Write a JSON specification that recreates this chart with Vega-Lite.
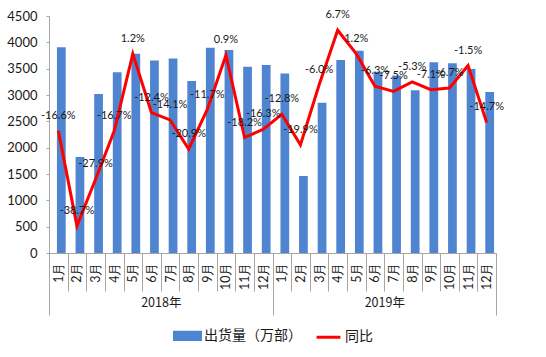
{
  "$schema": "https://vega.github.io/schema/vega-lite/v6.json",
  "autosize": {"type": "none"},
  "width": 447,
  "height": 237,
  "padding": {"left": 49, "top": 16, "right": 50, "bottom": 104},
  "background": "white",
  "config": {
    "view": {"stroke": null},
    "axis": {"labelFont": "Lato", "labelColor": "#1a1a1a", "labelFontSize": 12, "domainColor": "#a6a6a6", "tickColor": "#a6a6a6", "grid": false, "title": null},
    "legend": {"layout": {"bottom": {"anchor": "middle"}}}
  },
  "datasets": {
    "months": [
      {"k": "2018-01", "ship": 3905, "yoy": -16.6, "lab": "-16.6%", "s": "出货量（万部）", "t": "同比"},
      {"k": "2018-02", "ship": 1825, "yoy": -38.7, "lab": "-38.7%", "s": "出货量（万部）", "t": "同比"},
      {"k": "2018-03", "ship": 3017, "yoy": -27.9, "lab": "-27.9%", "s": "出货量（万部）", "t": "同比"},
      {"k": "2018-04", "ship": 3430, "yoy": -16.7, "lab": "-16.7%", "s": "出货量（万部）", "t": "同比"},
      {"k": "2018-05", "ship": 3785, "yoy": 1.2, "lab": "1.2%", "s": "出货量（万部）", "t": "同比"},
      {"k": "2018-06", "ship": 3657, "yoy": -12.4, "lab": "-12.4%", "s": "出货量（万部）", "t": "同比"},
      {"k": "2018-07", "ship": 3695, "yoy": -14.1, "lab": "-14.1%", "s": "出货量（万部）", "t": "同比"},
      {"k": "2018-08", "ship": 3264, "yoy": -20.9, "lab": "-20.9%", "s": "出货量（万部）", "t": "同比"},
      {"k": "2018-09", "ship": 3897, "yoy": -11.7, "lab": "-11.7%", "s": "出货量（万部）", "t": "同比"},
      {"k": "2018-10", "ship": 3853, "yoy": 0.9, "lab": "0.9%", "s": "出货量（万部）", "t": "同比"},
      {"k": "2018-11", "ship": 3536, "yoy": -18.2, "lab": "-18.2%", "s": "出货量（万部）", "t": "同比"},
      {"k": "2018-12", "ship": 3568, "yoy": -16.3, "lab": "-16.3%", "s": "出货量（万部）", "t": "同比"},
      {"k": "2019-01", "ship": 3410, "yoy": -12.8, "lab": "-12.8%", "s": "出货量（万部）", "t": "同比"},
      {"k": "2019-02", "ship": 1460, "yoy": -19.9, "lab": "-19.9%", "s": "出货量（万部）", "t": "同比"},
      {"k": "2019-03", "ship": 2852, "yoy": -6.0, "lab": "-6.0%", "s": "出货量（万部）", "t": "同比"},
      {"k": "2019-04", "ship": 3663, "yoy": 6.7, "lab": "6.7%", "s": "出货量（万部）", "t": "同比"},
      {"k": "2019-05", "ship": 3838, "yoy": 1.2, "lab": "1.2%", "s": "出货量（万部）", "t": "同比"},
      {"k": "2019-06", "ship": 3440, "yoy": -6.3, "lab": "-6.3%", "s": "出货量（万部）", "t": "同比"},
      {"k": "2019-07", "ship": 3370, "yoy": -7.5, "lab": "-7.5%", "s": "出货量（万部）", "t": "同比"},
      {"k": "2019-08", "ship": 3090, "yoy": -5.3, "lab": "-5.3%", "s": "出货量（万部）", "t": "同比"},
      {"k": "2019-09", "ship": 3620, "yoy": -7.1, "lab": "-7.1%", "s": "出货量（万部）", "t": "同比"},
      {"k": "2019-10", "ship": 3605, "yoy": -6.7, "lab": "-6.7%", "s": "出货量（万部）", "t": "同比"},
      {"k": "2019-11", "ship": 3492, "yoy": -1.5, "lab": "-1.5%", "s": "出货量（万部）", "t": "同比"},
      {"k": "2019-12", "ship": 3055, "yoy": -14.7, "lab": "-14.7%", "s": "出货量（万部）", "t": "同比"}
    ],
    "years": [{"year": "2018年"}, {"year": "2019年"}]
  },
  "layer": [
    {
      "data": {"name": "months"},
      "mark": {"type": "bar", "width": {"band": 0.47}, "xOffset": 3},
      "encoding": {
        "x": {"field": "k", "type": "nominal", "sort": null,
              "scale": {"paddingInner": 0, "paddingOuter": 0},
              "axis": {"orient": "bottom", "labelExpr": "datum.value ? (toNumber(substring(datum.value, 5, 7)) + '月') : ''", "labelAngle": -90, "tickBand": "extent", "tickSize": 38, "labelPadding": -29, "labelFontSize": 12.5}},
        "y": {"field": "ship", "type": "quantitative",
              "scale": {"domain": [0, 4500], "nice": false},
              "axis": {"orient": "left", "format": "d", "values": [0,500,1000,1500,2000,2500,3000,3500,4000,4500], "tickSize": 3, "labelPadding": 9, "labelFontSize": 13}},
        "color": {"field": "s", "type": "nominal",
                  "scale": {"domain": ["出货量（万部）", "同比"], "range": ["#4f85d0", "#ff0000"]},
                  "legend": {"orient": "bottom", "direction": "horizontal", "title": null, "offset": 5, "labelFontSize": 14, "labelFont": "Noto Sans CJK SC", "labelColor": "#1a1a1a", "symbolSize": 676, "columnPadding": 8, "labelOffset": 2,
                    "encode": {"symbols": {"update": {
                      "shape": {"signal": "datum.label == '同比' ? 'M-0.92,0H0.92' : 'M-1,-0.28H1V0.28H-1Z'"},
                      "fill": {"signal": "datum.label == '同比' ? 'transparent' : '#4f85d0'"},
                      "stroke": {"signal": "datum.label == '同比' ? '#ff0000' : 'transparent'"},
                      "strokeWidth": {"value": 3}
                    }}}}}
      }
    },
    {
      "data": {"name": "months"},
      "encoding": {
        "x": {"field": "k", "type": "nominal", "sort": null, "scale": {"paddingInner": 0, "paddingOuter": 0}, "axis": null}
      },
      "layer": [
        {
          "mark": {"type": "line", "strokeWidth": 3},
          "encoding": {
            "y": {"field": "yoy", "type": "quantitative", "scale": {"domain": [-45, 10], "nice": false},
                  "axis": {"orient": "right", "values": [-45,-40,-35,-30,-25,-20,-15,-10,-5,0,5,10], "labelExpr": "datum.value + '%'", "tickSize": 3, "labelPadding": 7, "labelFontSize": 13}},
            "color": {"field": "t", "type": "nominal"}
          }
        },
        {
          "mark": {"type": "text", "dy": -15, "fontSize": 11, "font": "Lato", "color": "#1a1a1a", "baseline": "middle"},
          "encoding": {
            "y": {"field": "yoy", "type": "quantitative", "axis": null},
            "text": {"field": "lab"}
          }
        }
      ]
    },
    {
      "data": {"name": "years"},
      "mark": {"type": "tick", "opacity": 0},
      "encoding": {
        "x": {"field": "year", "type": "nominal", "sort": null,
              "scale": {"paddingInner": 0, "paddingOuter": 0},
              "axis": {"orient": "bottom", "domain": false, "tickBand": "extent", "tickSize": 62, "labelPadding": -13, "labelAngle": 0, "labelFontSize": 12.5, "labelBaseline": "middle", "labelFont": "Noto Sans CJK SC"}}
      }
    }
  ],
  "resolve": {"scale": {"x": "independent", "y": "independent"}}
}
